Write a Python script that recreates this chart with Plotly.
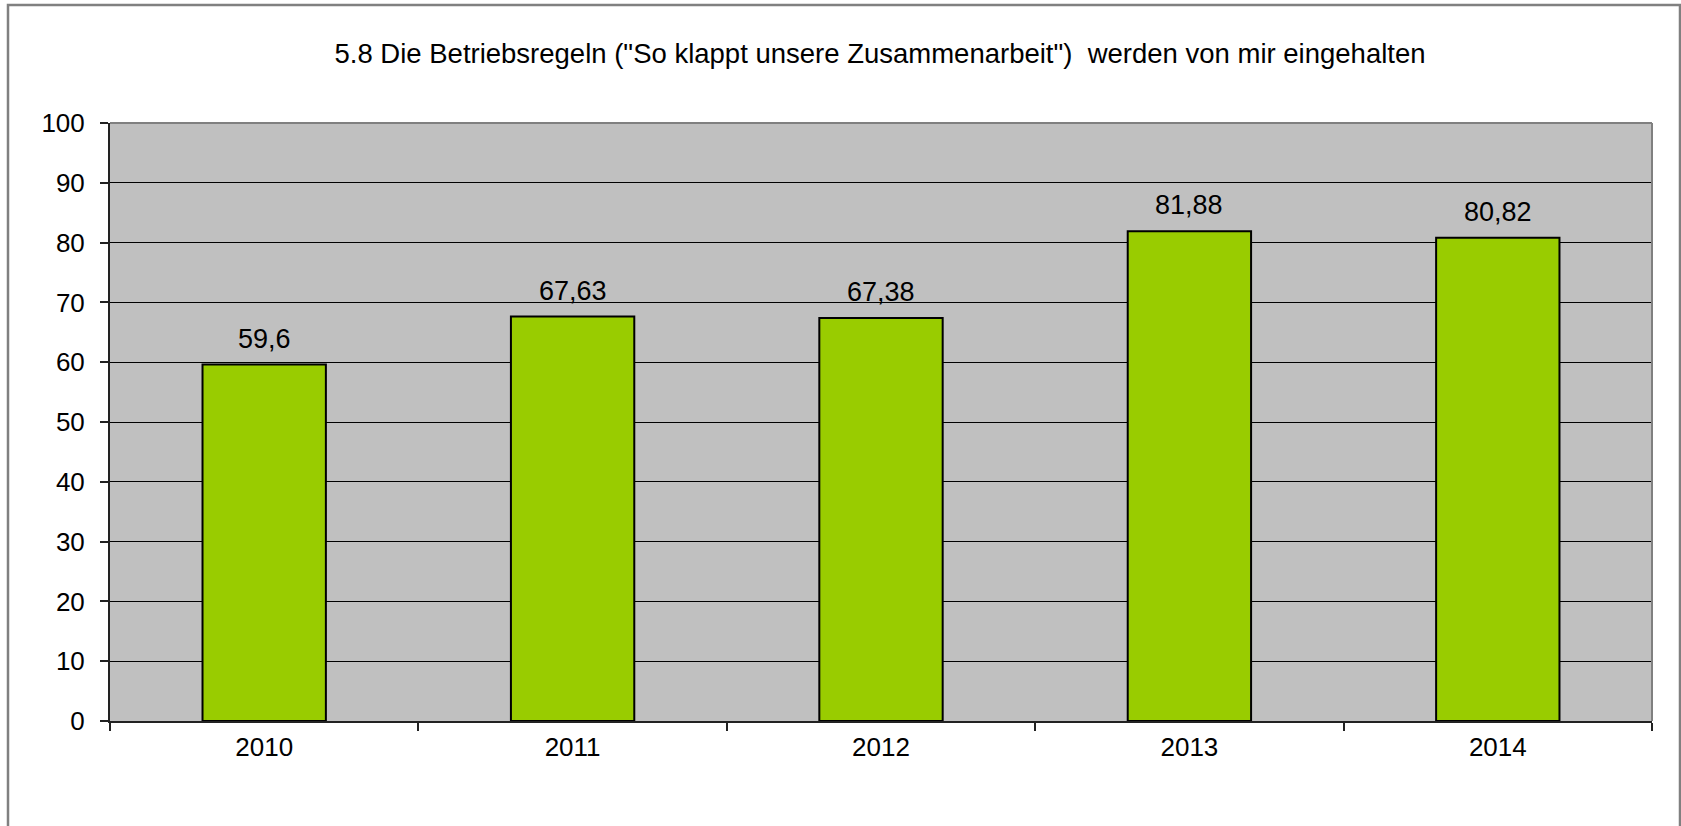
import plotly.graph_objects as go

years = ["2010", "2011", "2012", "2013", "2014"]
values = [59.6, 67.63, 67.38, 81.88, 80.82]
value_labels = ["59,6", "67,63", "67,38", "81,88", "80,82"]
y_ticks = [0, 10, 20, 30, 40, 50, 60, 70, 80, 90, 100]
title_text = "5.8 Die Betriebsregeln (\"So klappt unsere Zusammenarbeit\") \u00a0werden von mir eingehalten"

W, H = 1681, 826
L, R, T, B = 110, 29, 123, 105
PW, PH = W - L - R, H - T - B
FONT = "Arial, Liberation Sans, sans-serif"

def px_x(x):
    return (x - L) / PW

def px_y(y):
    return (H - B - y) / PH

fig = go.Figure()
fig.add_trace(go.Bar(
    x=years, y=values,
    marker=dict(color="#99cc00", line=dict(color="#000000", width=2)),
    width=0.4,
    hoverinfo="skip",
))

for i, (v, lab) in enumerate(zip(values, value_labels)):
    fig.add_annotation(x=i, y=v, xref="x", yref="y", text=lab, showarrow=False,
                       yanchor="bottom", yshift=9,
                       font=dict(family=FONT, size=27, color="#000000"))

fig.update_layout(
    width=W, height=H,
    margin=dict(l=L, r=R, t=T, b=B, pad=0),
    paper_bgcolor="#ffffff",
    plot_bgcolor="#c0c0c0",
    showlegend=False,
    font=dict(family=FONT, size=26, color="#000000"),
    title=dict(text=title_text, x=880 / W, xanchor="center",
               y=1 - 53 / H, yanchor="middle",
               font=dict(family=FONT, size=27.5, color="#000000")),
    xaxis=dict(
        type="category", showgrid=False, showline=True, linecolor="#222222", linewidth=2,
        ticks="outside", ticklen=8, tickcolor="#222222", tickwidth=2,
        tickson="boundaries", tickfont=dict(family=FONT, size=26, color="#000000"),
        ticklabelstandoff=2, range=[-0.5, 4.5],
    ),
    yaxis=dict(
        range=[0, 100], tickvals=y_ticks, showgrid=True, gridcolor="#000000", gridwidth=1,
        showline=True, linecolor="#222222", linewidth=2, zeroline=False,
        ticks="outside", ticklen=8, tickcolor="#222222", tickwidth=2,
        tickfont=dict(family=FONT, size=26, color="#000000"), ticklabelstandoff=10,
    ),
    shapes=[
        dict(type="line", xref="paper", yref="paper", x0=0, x1=1, y0=1, y1=1,
             line=dict(color="#808080", width=2), layer="above"),
        dict(type="line", xref="paper", yref="paper", x0=1, x1=1, y0=0, y1=1,
             line=dict(color="#808080", width=2), layer="above"),
        dict(type="rect", xref="paper", yref="paper",
             x0=px_x(8), x1=px_x(1680), y0=px_y(5), y1=px_y(840),
             line=dict(color="#808080", width=2.5), fillcolor="rgba(0,0,0,0)", layer="above"),
    ],
)

fig.write_html("out.html", config={"displayModeBar": False},
               post_script="document.body.style.margin='0';document.body.style.overflow='hidden';")
